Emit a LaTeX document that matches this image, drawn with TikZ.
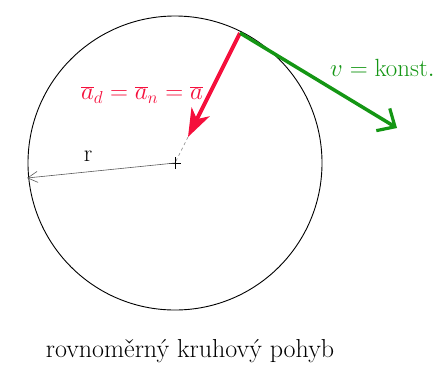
\documentclass[tikz,border=0pt]{standalone}
\usetikzlibrary{arrows.meta,calc}
\definecolor{vred}{RGB}{245,15,60}
\definecolor{vgreen}{RGB}{20,150,20}
\tikzset{
  lbl/.style={inner sep=0pt},
}
\begin{document}
\begin{tikzpicture}[x=1pt,y=-1pt]
\useasboundingbox (0,0) rectangle (438,376);
\coordinate (C) at (175,163);
\draw[line width=0.9pt] (C) circle[radius=147];
\coordinate (P) at (240,33);
\coordinate (T) at (188,137);
\coordinate (V) at (397,128);
\coordinate (L) at (27,178);
% dashed to centre
\draw[gray, dashed, line width=0.6pt] (T) -- (C);
% centre cross
\draw[line width=0.9pt] ($(C)+(-6,0)$) -- ($(C)+(6,0)$) ($(C)+(0,-6)$) -- ($(C)+(0,6)$);
% radius
\draw[gray!70!black, line width=0.6pt, -{Straight Barb[length=10pt,width=11pt]}] (C) -- (L);
\node[lbl] (r) at (88,156) {\fontsize{24}{26}\selectfont r};
% acceleration
\draw[vred, line width=4pt, -{Stealth[length=28pt,width=20pt,inset=8pt]}] (P) -- (T);
% velocity
\draw[vgreen, line width=3.5pt, -{Straight Barb[length=14pt,width=26pt,line width=3.2pt]}] (P) -- (V);
\node[lbl, text=vred, font=\fontsize{23}{26}\selectfont] (a) at (142,95) {$\overline{a}_{d} = \overline{a}_{n} = \overline{a}$};
\node[lbl, text=vgreen, anchor=west, font=\fontsize{25}{28}\selectfont] (v) at (330,68) {$v = \mathrm{konst.}$};
\node[lbl, font=\fontsize{26}{30}\selectfont] (t) at (190,351) {rovnoměrný kruhový pohyb};
\end{tikzpicture}
\end{document}
